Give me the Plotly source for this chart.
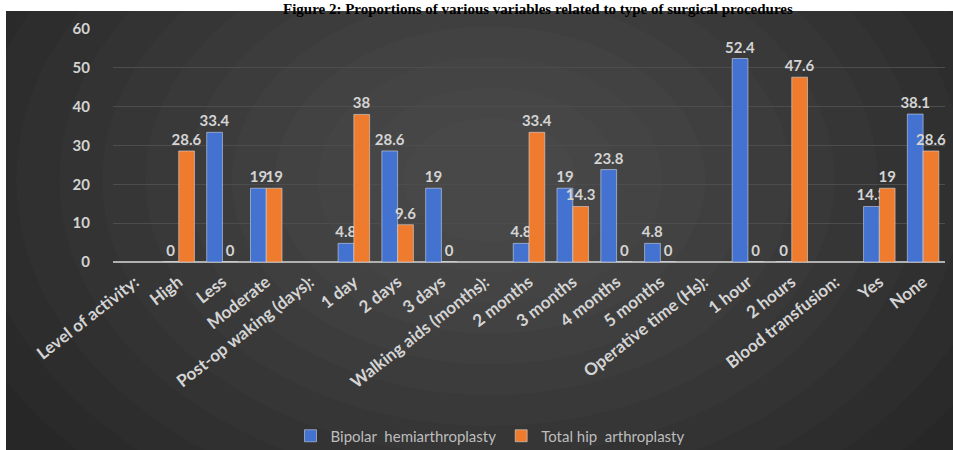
import plotly.graph_objects as go

categories = ["Level of activity:", "High", "Less", "Moderate", "Post-op waking (days):",
              "1 day", "2 days", "3 days", "Walking aids (months):", "2 months", "3 months",
              "4 months", "5 months", "Operative time (Hs):", "1 hour", "2 hours",
              "Blood transfusion:", "Yes", "None"]
bipolar = [None, 0, 33.4, 19, None, 4.8, 28.6, 19, None, 4.8, 19, 23.8, 4.8, None, 52.4, 0, None, 14.3, 38.1]
total_hip = [None, 28.6, 0, 19, None, 38, 9.6, 0, None, 33.4, 14.3, 0, 0, None, 0, 47.6, None, 19, 28.6]
series_names = ["Bipolar  hemiarthroplasty", "Total hip  arthroplasty"]
y_ticks = [0, 10, 20, 30, 40, 50, 60]
title_text = "Figure 2: Proportions of various variables related to type of surgical procedures"

W, H = 953, 450
L, R, T, B = 113, 8, 29, 188
PW, PH = W - L - R, H - T - B


def px(x):
    return (x - L) / PW


def py(y):
    return (H - B - y) / PH


def lbl(v):
    if v is None:
        return ""
    return f"{v:g}"


label_font = dict(color="#d4d4d4", size=15, family="Lato", weight="bold")
fig = go.Figure()
fig.add_trace(go.Bar(x=categories, y=bipolar, name=series_names[0], marker_color="#4472d0",
                     text=[lbl(v) for v in bipolar], textposition="outside", textfont=label_font,
                     constraintext="none", cliponaxis=False))
fig.add_trace(go.Bar(x=categories, y=total_hip, name=series_names[1], marker_color="#ee7b2e",
                     text=[lbl(v) for v in total_hip], textposition="outside", textfont=label_font,
                     constraintext="none", cliponaxis=False))

# dark panel with a soft radial glow (decoration only)
shapes = [dict(type="rect", xref="paper", yref="paper", x0=px(6), x1=px(960), y0=py(460), y1=py(11),
               fillcolor="#272727", line=dict(width=0), layer="below")]
cx, cy, rx, ry, n = 490, 180, 560, 400, 12
for i in range(n):
    f = 1 - i / (n + 1)
    shapes.append(dict(type="circle", xref="paper", yref="paper",
                       x0=px(cx - rx * f), x1=px(cx + rx * f), y0=py(cy + ry * f), y1=py(cy - ry * f),
                       fillcolor="rgba(255,255,255,0.0146)", line=dict(width=0), layer="below"))
# keep the white strips white
shapes.append(dict(type="rect", xref="paper", yref="paper", x0=px(-50), x1=px(1003), y0=py(11), y1=py(-80),
                   fillcolor="white", line=dict(width=0), layer="below"))
shapes.append(dict(type="rect", xref="paper", yref="paper", x0=px(-50), x1=px(6), y0=py(500), y1=py(-80),
                   fillcolor="white", line=dict(width=0), layer="below"))

fig.update_layout(
    width=W, height=H, margin=dict(l=L, r=R, t=T, b=B, autoexpand=False),
    paper_bgcolor="white", plot_bgcolor="rgba(0,0,0,0)",
    barmode="group", bargap=0.28, bargroupgap=0,
    shapes=shapes,
    showlegend=True,
    legend=dict(orientation="h", xref="container", yref="container", x=490 / W, xanchor="center",
                y=1 - 436 / H, yanchor="middle",
                font=dict(color="#bdbdbd", size=15, family="Lato"), bgcolor="rgba(0,0,0,0)"),
    annotations=[dict(text="<b>" + title_text + "</b>", xref="paper", yref="paper",
                      x=px(538), xanchor="center", y=py(-1), yanchor="top", showarrow=False,
                      font=dict(family="Liberation Serif", size=15, color="black"))],
)
fig.update_xaxes(tickangle=-38, tickfont=dict(color="#d4d4d4", size=17, family="Lato", weight="bold"),
                 showgrid=False, showline=False, zeroline=False, ticks="", ticklabelstandoff=6,
                 automargin=False)
fig.update_yaxes(range=[0, 60], tickvals=y_ticks, showgrid=True, gridcolor="#4d4d4d", gridwidth=1,
                 zeroline=True, zerolinecolor="#b0b0b0", zerolinewidth=2,
                 tickfont=dict(color="#d4d4d4", size=15, family="Lato", weight="bold"),
                 ticklabelstandoff=22, showline=False, automargin=False)

fig.write_html("out.html")
